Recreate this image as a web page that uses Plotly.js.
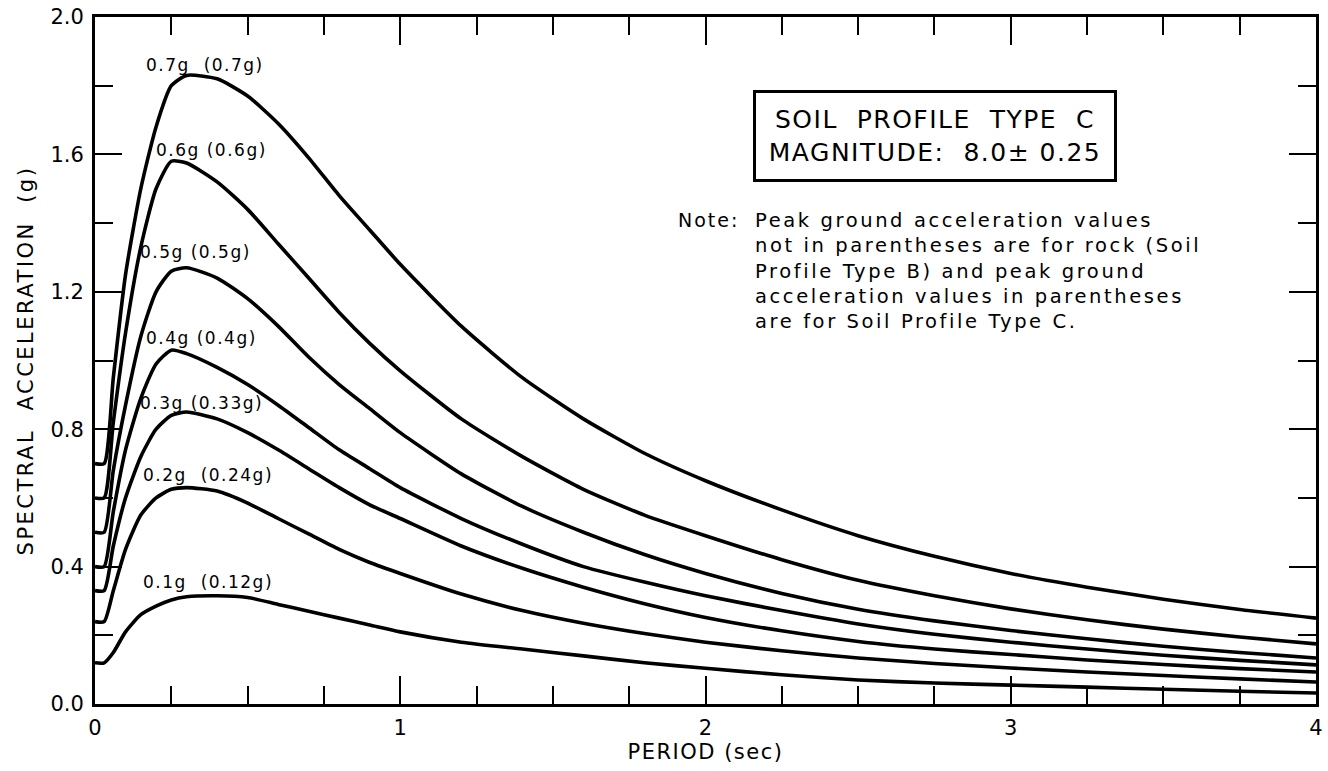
<!DOCTYPE html>
<html><head><meta charset="utf-8">
<script src="https://cdn.plot.ly/plotly-3.0.1.min.js"></script>
<style>
html,body{margin:0;padding:0;background:#fff}
#chart{width:1328px;height:771px}
.ytitle{letter-spacing:2.5px}
.xtitle{letter-spacing:1.5px}
</style>
</head><body><div id="chart"></div>
<script>
// Period (sec)
const period = [0, 0.03, 0.06, 0.1, 0.15, 0.2, 0.25, 0.3, 0.4, 0.5, 0.6, 0.7, 0.8, 0.9, 1.0, 1.2, 1.4, 1.6, 1.8, 2.0, 2.25, 2.5, 2.75, 3.0, 3.25, 3.5, 3.75, 4.0];
// Spectral acceleration (g) per curve
const sa07 = [0.70, 0.70, 0.95, 1.25, 1.50, 1.68, 1.80, 1.83, 1.82, 1.77, 1.69, 1.59, 1.48, 1.38, 1.28, 1.10, 0.95, 0.83, 0.73, 0.65, 0.565, 0.49, 0.43, 0.38, 0.34, 0.305, 0.275, 0.25];
const sa06 = [0.60, 0.60, 0.82, 1.08, 1.33, 1.50, 1.58, 1.575, 1.52, 1.44, 1.34, 1.24, 1.14, 1.05, 0.97, 0.83, 0.72, 0.625, 0.55, 0.49, 0.42, 0.36, 0.315, 0.277, 0.245, 0.218, 0.195, 0.175];
const sa05 = [0.50, 0.50, 0.68, 0.87, 1.07, 1.20, 1.26, 1.27, 1.24, 1.18, 1.10, 1.01, 0.93, 0.86, 0.79, 0.67, 0.575, 0.50, 0.435, 0.38, 0.322, 0.276, 0.242, 0.214, 0.19, 0.168, 0.15, 0.134];
const sa04 = [0.40, 0.40, 0.56, 0.74, 0.89, 0.99, 1.03, 1.02, 0.98, 0.93, 0.87, 0.805, 0.74, 0.685, 0.63, 0.54, 0.465, 0.40, 0.355, 0.315, 0.272, 0.233, 0.203, 0.18, 0.16, 0.142, 0.127, 0.114];
const sa03 = [0.33, 0.33, 0.46, 0.60, 0.72, 0.80, 0.84, 0.85, 0.83, 0.79, 0.74, 0.685, 0.63, 0.58, 0.54, 0.46, 0.395, 0.34, 0.292, 0.252, 0.213, 0.182, 0.16, 0.144, 0.128, 0.115, 0.103, 0.093];
const sa02 = [0.24, 0.24, 0.33, 0.45, 0.55, 0.60, 0.625, 0.63, 0.62, 0.585, 0.54, 0.495, 0.45, 0.412, 0.38, 0.32, 0.272, 0.235, 0.205, 0.18, 0.155, 0.134, 0.118, 0.105, 0.093, 0.083, 0.073, 0.064];
const sa01 = [0.12, 0.12, 0.15, 0.21, 0.26, 0.285, 0.303, 0.312, 0.315, 0.31, 0.29, 0.27, 0.25, 0.23, 0.21, 0.18, 0.16, 0.14, 0.12, 0.104, 0.085, 0.07, 0.061, 0.055, 0.049, 0.043, 0.037, 0.032];
const curveLabels = ["0.7g  (0.7g)", "0.6g (0.6g)", "0.5g (0.5g)", "0.4g (0.4g)", "0.3g (0.33g)", "0.2g  (0.24g)", "0.1g  (0.12g)"];
const series = [sa07, sa06, sa05, sa04, sa03, sa02, sa01];
// label anchor points (layout placement)
const labelPlace = [[0.36, 1.86], [0.38, 1.613], [0.33, 1.316], [0.35, 1.066], [0.35, 0.876], [0.37, 0.667], [0.37, 0.355]];

const FONT = "DejaVu Sans, sans-serif";
const sp = (t, ls) => '<span style="letter-spacing:' + ls + 'px">' + t + '</span>';

const traces = series.map((s, i) => ({
  x: period, y: s, type: 'scatter', mode: 'lines', name: curveLabels[i],
  line: {color: '#000', width: 3.6, shape: 'spline', smoothing: 0.6},
  hoverinfo: 'skip'
}));

const annotations = curveLabels.map((t, i) => ({
  x: labelPlace[i][0], y: labelPlace[i][1], xref: 'x', yref: 'y', text: sp(t, 1.5),
  showarrow: false, font: {family: FONT, size: 17, color: '#000'}, xanchor: 'center', yanchor: 'middle'
}));
annotations.push({
  x: 0.688, y: 0.827, xref: 'paper', yref: 'paper', xanchor: 'center', yanchor: 'middle',
  text: sp('SOIL  PROFILE  TYPE  C', 1.5) + '<br>' + sp('MAGNITUDE:  8.0\u00b1 0.25', 1.5), showarrow: false,
  font: {family: FONT, size: 25, color: '#000'}, bordercolor: '#000', borderwidth: 3,
  borderpad: 12, bgcolor: '#fff', align: 'center', width: 334, height: 62
});
annotations.push({
  x: 0.476, y: 0.7234, xref: 'paper', yref: 'paper', xanchor: 'left', yanchor: 'top',
  text: sp('Note:', 2), showarrow: false, font: {family: FONT, size: 19, color: '#000'}, align: 'left'
});
const noteLines = ['Peak ground acceleration values', 'not in parentheses are for rock (Soil', 'Profile Type B) and peak ground', 'acceleration values in parentheses', 'are for Soil Profile Type C.'];
annotations.push({
  x: 0.539, y: 0.7234, xref: 'paper', yref: 'paper', xanchor: 'left', yanchor: 'top',
  text: noteLines.map(l => sp(l, 2.6)).join('<br>'),
  showarrow: false, font: {family: FONT, size: 19.5, color: '#000'}, align: 'left'
});

const layout = {
  width: 1328, height: 771,
  margin: {l: 95, r: 12, t: 17, b: 67},
  paper_bgcolor: '#fff', plot_bgcolor: '#fff',
  showlegend: false,
  font: {family: FONT, color: '#000'},
  xaxis: {
    range: [0, 4], dtick: 1, tick0: 0, ticks: 'inside', ticklen: 28, tickwidth: 2, tickcolor: '#000',
    minor: {dtick: 0.25, tick0: 0, ticks: 'inside', ticklen: 18, tickwidth: 2, tickcolor: '#000'},
    showline: true, linewidth: 3, linecolor: '#000', mirror: 'ticks', showgrid: false, zeroline: false,
    tickfont: {family: FONT, size: 21}, ticklabelstandoff: 3,
    title: {text: 'PERIOD (sec)', font: {family: FONT, size: 21}, standoff: 6}
  },
  yaxis: {
    range: [0, 2], dtick: 0.4, tick0: 0, tickformat: '.1f', ticks: 'inside', ticklen: 27, tickwidth: 2, tickcolor: '#000',
    minor: {dtick: 0.2, tick0: 0, ticks: 'inside', ticklen: 18, tickwidth: 2, tickcolor: '#000'},
    showline: true, linewidth: 3, linecolor: '#000', mirror: 'ticks', showgrid: false, zeroline: false,
    tickfont: {family: FONT, size: 21}, ticklabelstandoff: 4,
    title: {text: 'SPECTRAL  ACCELERATION  (g)', font: {family: FONT, size: 21}, standoff: 12}
  },
  annotations: annotations
};
Plotly.newPlot('chart', traces, layout, {staticPlot: true, displayModeBar: false});
</script></body></html>
